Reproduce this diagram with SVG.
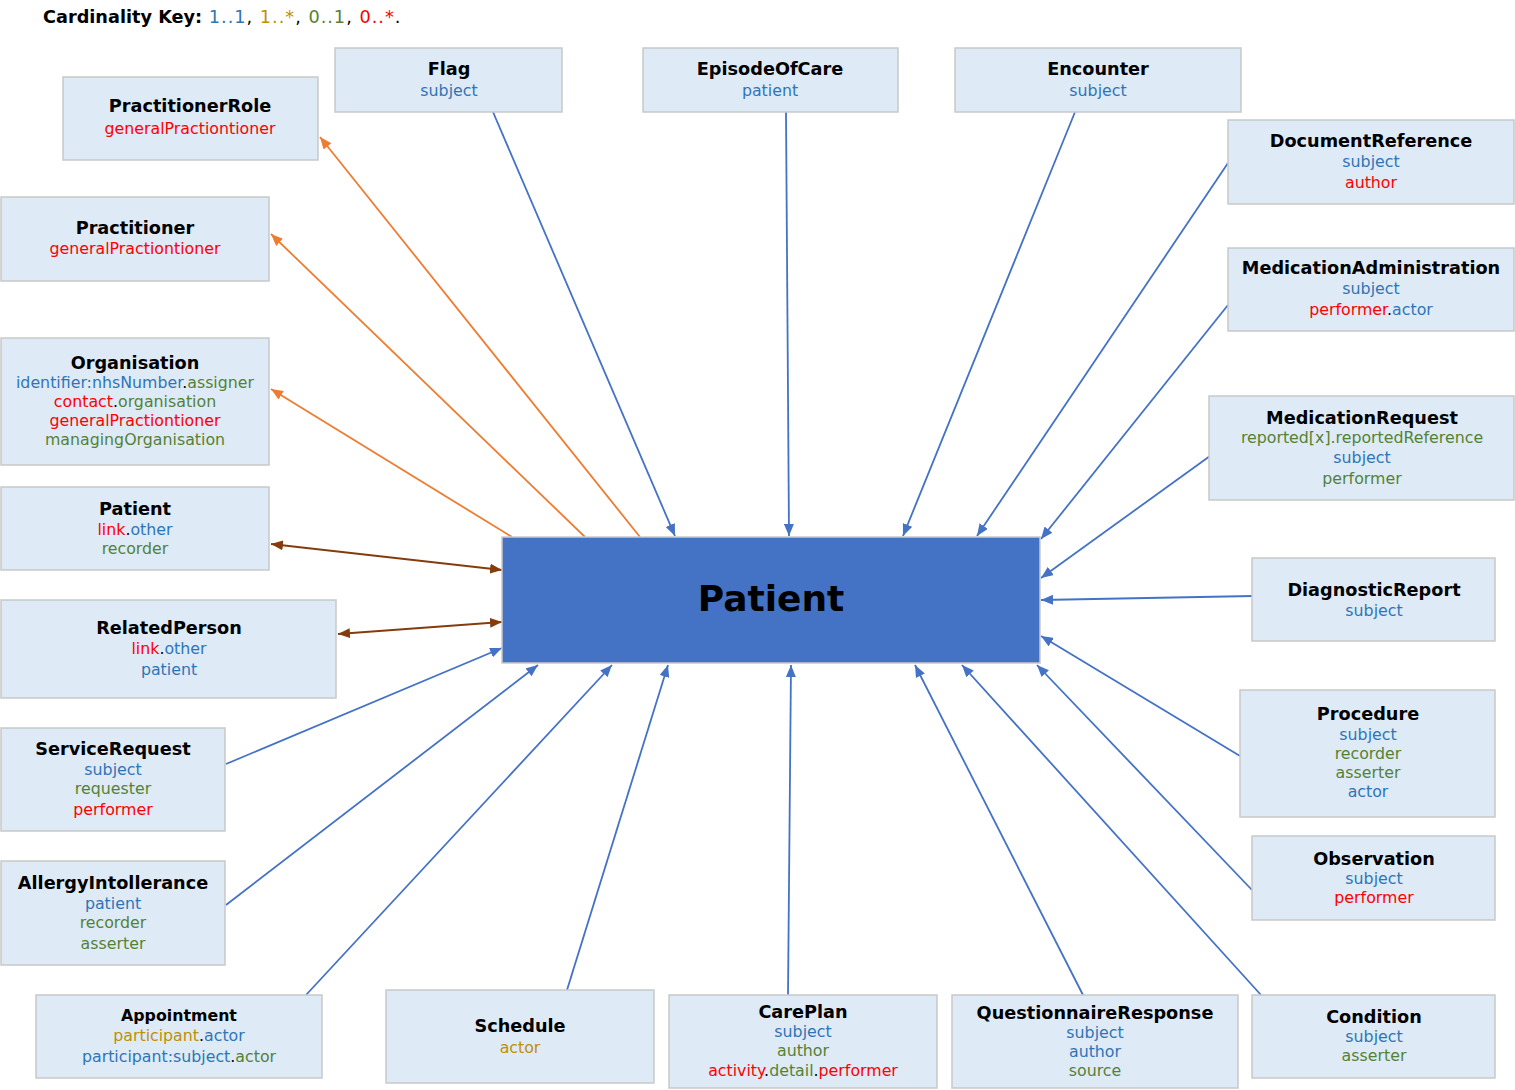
<svg xmlns="http://www.w3.org/2000/svg" width="1515" height="1090" viewBox="0 0 1515 1090">
<style>
.n{fill:#DEEAF6;stroke:#C9C9C9;stroke-width:1.5}
.t{font-family:"DejaVu Sans",Verdana,sans-serif;font-size:17.7px;font-weight:bold;fill:#000;text-anchor:middle}
.s{font-family:"DejaVu Sans",Verdana,sans-serif;font-size:15.8px;text-anchor:middle}
.b{fill:#2E75B6}.g{fill:#BF9000}.gr{fill:#548235}.r{fill:#FF0000}.k{fill:#000}
.cb{stroke:#4472C4;stroke-width:1.8;fill:none;marker-end:url(#mb)}
.co{stroke:#ED7D31;stroke-width:1.8;fill:none;marker-end:url(#mo)}
.cr{stroke:#843C0C;stroke-width:1.8;fill:none;marker-end:url(#mr);marker-start:url(#mr)}
</style>
<defs>
<marker id="mb" viewBox="0 0 12 10" refX="12" refY="5" markerWidth="12" markerHeight="10" markerUnits="userSpaceOnUse" orient="auto-start-reverse"><path d="M0,0 L12,5 L0,10 z" fill="#4472C4"/></marker>
<marker id="mo" viewBox="0 0 12 10" refX="12" refY="5" markerWidth="12" markerHeight="10" markerUnits="userSpaceOnUse" orient="auto-start-reverse"><path d="M0,0 L12,5 L0,10 z" fill="#ED7D31"/></marker>
<marker id="mr" viewBox="0 0 12 10" refX="12" refY="5" markerWidth="12" markerHeight="10" markerUnits="userSpaceOnUse" orient="auto-start-reverse"><path d="M0,0 L12,5 L0,10 z" fill="#843C0C"/></marker>
</defs>
<rect width="1515" height="1090" fill="#fff"/>
<text x="43" y="23" style="font-family:'DejaVu Sans',Verdana,sans-serif;font-size:17.7px"><tspan font-weight="bold">Cardinality Key:</tspan><tspan letter-spacing="1"><tspan class="b"> 1..1</tspan><tspan class="k">, </tspan><tspan class="g">1..*</tspan><tspan class="k">, </tspan><tspan class="gr">0..1</tspan><tspan class="k">, </tspan><tspan class="r">0..*</tspan><tspan class="k">.</tspan></tspan></text>

<g id="connectors">
<line class="co" x1="640" y1="537" x2="320" y2="137"/>
<line class="co" x1="585" y1="537" x2="271" y2="234"/>
<line class="co" x1="512" y1="537" x2="271" y2="389"/>
<line class="cr" x1="271" y1="544" x2="502" y2="570"/>
<line class="cr" x1="338" y1="634" x2="502" y2="622"/>
<line class="cb" x1="226" y1="764" x2="502" y2="648"/>
<line class="cb" x1="226" y1="905" x2="538" y2="665"/>
<line class="cb" x1="306" y1="995" x2="612" y2="665"/>
<line class="cb" x1="567" y1="990" x2="668" y2="665"/>
<line class="cb" x1="788" y1="995" x2="791" y2="665"/>
<line class="cb" x1="1083" y1="995" x2="915" y2="665"/>
<line class="cb" x1="1261" y1="995" x2="962" y2="665"/>
<line class="cb" x1="1252" y1="890" x2="1037" y2="665"/>
<line class="cb" x1="1240" y1="756" x2="1041" y2="636"/>
<line class="cb" x1="1253" y1="596" x2="1041" y2="600"/>
<line class="cb" x1="1210" y1="456" x2="1041" y2="578"/>
<line class="cb" x1="1228" y1="305" x2="1041" y2="539"/>
<line class="cb" x1="1228" y1="163" x2="977" y2="536"/>
<line class="cb" x1="1075" y1="112" x2="903" y2="536"/>
<line class="cb" x1="786" y1="112" x2="789" y2="536"/>
<line class="cb" x1="493" y1="112" x2="675" y2="536"/>
</g>

<g id="patient-main">
<rect x="502" y="537" width="538" height="126" fill="#4472C4" stroke="#C9C9C9" stroke-width="1.5"/>
<text x="771" y="611" class="t" style="font-size:36px">Patient</text>
</g>

<g id="practitionerrole"><rect class="n" x="63" y="77" width="255" height="83"/>
<text x="190" y="112" class="t">PractitionerRole</text>
<text x="190" y="134" class="s r">generalPractiontioner</text></g>

<g id="flag"><rect class="n" x="335" y="48" width="227" height="64"/>
<text x="449" y="75" class="t">Flag</text>
<text x="449" y="96" class="s b">subject</text></g>

<g id="episodeofcare"><rect class="n" x="643" y="48" width="255" height="64"/>
<text x="770" y="75" class="t">EpisodeOfCare</text>
<text x="770" y="96" class="s b">patient</text></g>

<g id="encounter"><rect class="n" x="955" y="48" width="286" height="64"/>
<text x="1098" y="75" class="t">Encounter</text>
<text x="1098" y="96" class="s b">subject</text></g>

<g id="documentreference"><rect class="n" x="1228" y="120" width="286" height="84"/>
<text x="1371" y="147" class="t">DocumentReference</text>
<text x="1371" y="167" class="s b">subject</text>
<text x="1371" y="188" class="s r">author</text></g>

<g id="medicationadministration"><rect class="n" x="1228" y="248" width="286" height="83"/>
<text x="1371" y="274" class="t">MedicationAdministration</text>
<text x="1371" y="294" class="s b">subject</text>
<text x="1371" y="315" class="s"><tspan class="r">performer</tspan><tspan class="k">.</tspan><tspan class="b">actor</tspan></text></g>

<g id="medicationrequest"><rect class="n" x="1209" y="396" width="305" height="104"/>
<text x="1362" y="424" class="t">MedicationRequest</text>
<text x="1362" y="443" class="s gr">reported[x].reportedReference</text>
<text x="1362" y="463" class="s b">subject</text>
<text x="1362" y="484" class="s gr">performer</text></g>

<g id="diagnosticreport"><rect class="n" x="1252" y="558" width="243" height="83"/>
<text x="1374" y="596" class="t">DiagnosticReport</text>
<text x="1374" y="616" class="s b">subject</text></g>

<g id="procedure"><rect class="n" x="1240" y="690" width="255" height="127"/>
<text x="1368" y="720" class="t">Procedure</text>
<text x="1368" y="740" class="s b">subject</text>
<text x="1368" y="759" class="s gr">recorder</text>
<text x="1368" y="778" class="s gr">asserter</text>
<text x="1368" y="797" class="s b">actor</text></g>

<g id="observation"><rect class="n" x="1252" y="836" width="243" height="84"/>
<text x="1374" y="865" class="t">Observation</text>
<text x="1374" y="884" class="s b">subject</text>
<text x="1374" y="903" class="s r">performer</text></g>

<g id="condition"><rect class="n" x="1252" y="995" width="243" height="83"/>
<text x="1374" y="1023" class="t">Condition</text>
<text x="1374" y="1042" class="s b">subject</text>
<text x="1374" y="1061" class="s gr">asserter</text></g>

<g id="questionnaireresponse"><rect class="n" x="952" y="995" width="286" height="93"/>
<text x="1095" y="1019" class="t">QuestionnaireResponse</text>
<text x="1095" y="1038" class="s b">subject</text>
<text x="1095" y="1057" class="s b">author</text>
<text x="1095" y="1076" class="s gr">source</text></g>

<g id="careplan"><rect class="n" x="669" y="995" width="268" height="93"/>
<text x="803" y="1018" class="t">CarePlan</text>
<text x="803" y="1037" class="s b">subject</text>
<text x="803" y="1056" class="s gr">author</text>
<text x="803" y="1076" class="s"><tspan class="r">activity</tspan><tspan class="k">.</tspan><tspan class="gr">detail</tspan><tspan class="k">.</tspan><tspan class="r">performer</tspan></text></g>

<g id="schedule"><rect class="n" x="386" y="990" width="268" height="93"/>
<text x="520" y="1032" class="t">Schedule</text>
<text x="520" y="1053" class="s g">actor</text></g>

<g id="appointment"><rect class="n" x="36" y="995" width="286" height="83"/>
<text x="179" y="1021" class="t" style="font-size:15.8px">Appointment</text>
<text x="179" y="1041" class="s"><tspan class="g">participant</tspan><tspan class="k">.</tspan><tspan class="b">actor</tspan></text>
<text x="179" y="1062" class="s"><tspan class="b">participant:subject</tspan><tspan class="k">.</tspan><tspan class="gr">actor</tspan></text></g>

<g id="allergyintollerance"><rect class="n" x="1" y="861" width="224" height="104"/>
<text x="113" y="889" class="t">AllergyIntollerance</text>
<text x="113" y="909" class="s b">patient</text>
<text x="113" y="928" class="s gr">recorder</text>
<text x="113" y="949" class="s gr">asserter</text></g>

<g id="servicerequest"><rect class="n" x="1" y="728" width="224" height="103"/>
<text x="113" y="755" class="t">ServiceRequest</text>
<text x="113" y="775" class="s b">subject</text>
<text x="113" y="794" class="s gr">requester</text>
<text x="113" y="815" class="s r">performer</text></g>

<g id="relatedperson"><rect class="n" x="1" y="600" width="335" height="98"/>
<text x="169" y="634" class="t">RelatedPerson</text>
<text x="169" y="654" class="s"><tspan class="r">link</tspan><tspan class="k">.</tspan><tspan class="b">other</tspan></text>
<text x="169" y="675" class="s b">patient</text></g>

<g id="patient-link"><rect class="n" x="1" y="487" width="268" height="83"/>
<text x="135" y="515" class="t">Patient</text>
<text x="135" y="535" class="s"><tspan class="r">link</tspan><tspan class="k">.</tspan><tspan class="b">other</tspan></text>
<text x="135" y="554" class="s gr">recorder</text></g>

<g id="organisation"><rect class="n" x="1" y="338" width="268" height="127"/>
<text x="135" y="369" class="t">Organisation</text>
<text x="135" y="388" class="s"><tspan class="b">identifier:nhsNumber</tspan><tspan class="k">.</tspan><tspan class="gr">assigner</tspan></text>
<text x="135" y="407" class="s"><tspan class="r">contact</tspan><tspan class="k">.</tspan><tspan class="gr">organisation</tspan></text>
<text x="135" y="426" class="s r">generalPractiontioner</text>
<text x="135" y="445" class="s gr">managingOrganisation</text></g>

<g id="practitioner"><rect class="n" x="1" y="197" width="268" height="84"/>
<text x="135" y="234" class="t">Practitioner</text>
<text x="135" y="254" class="s r">generalPractiontioner</text></g>
</svg>
